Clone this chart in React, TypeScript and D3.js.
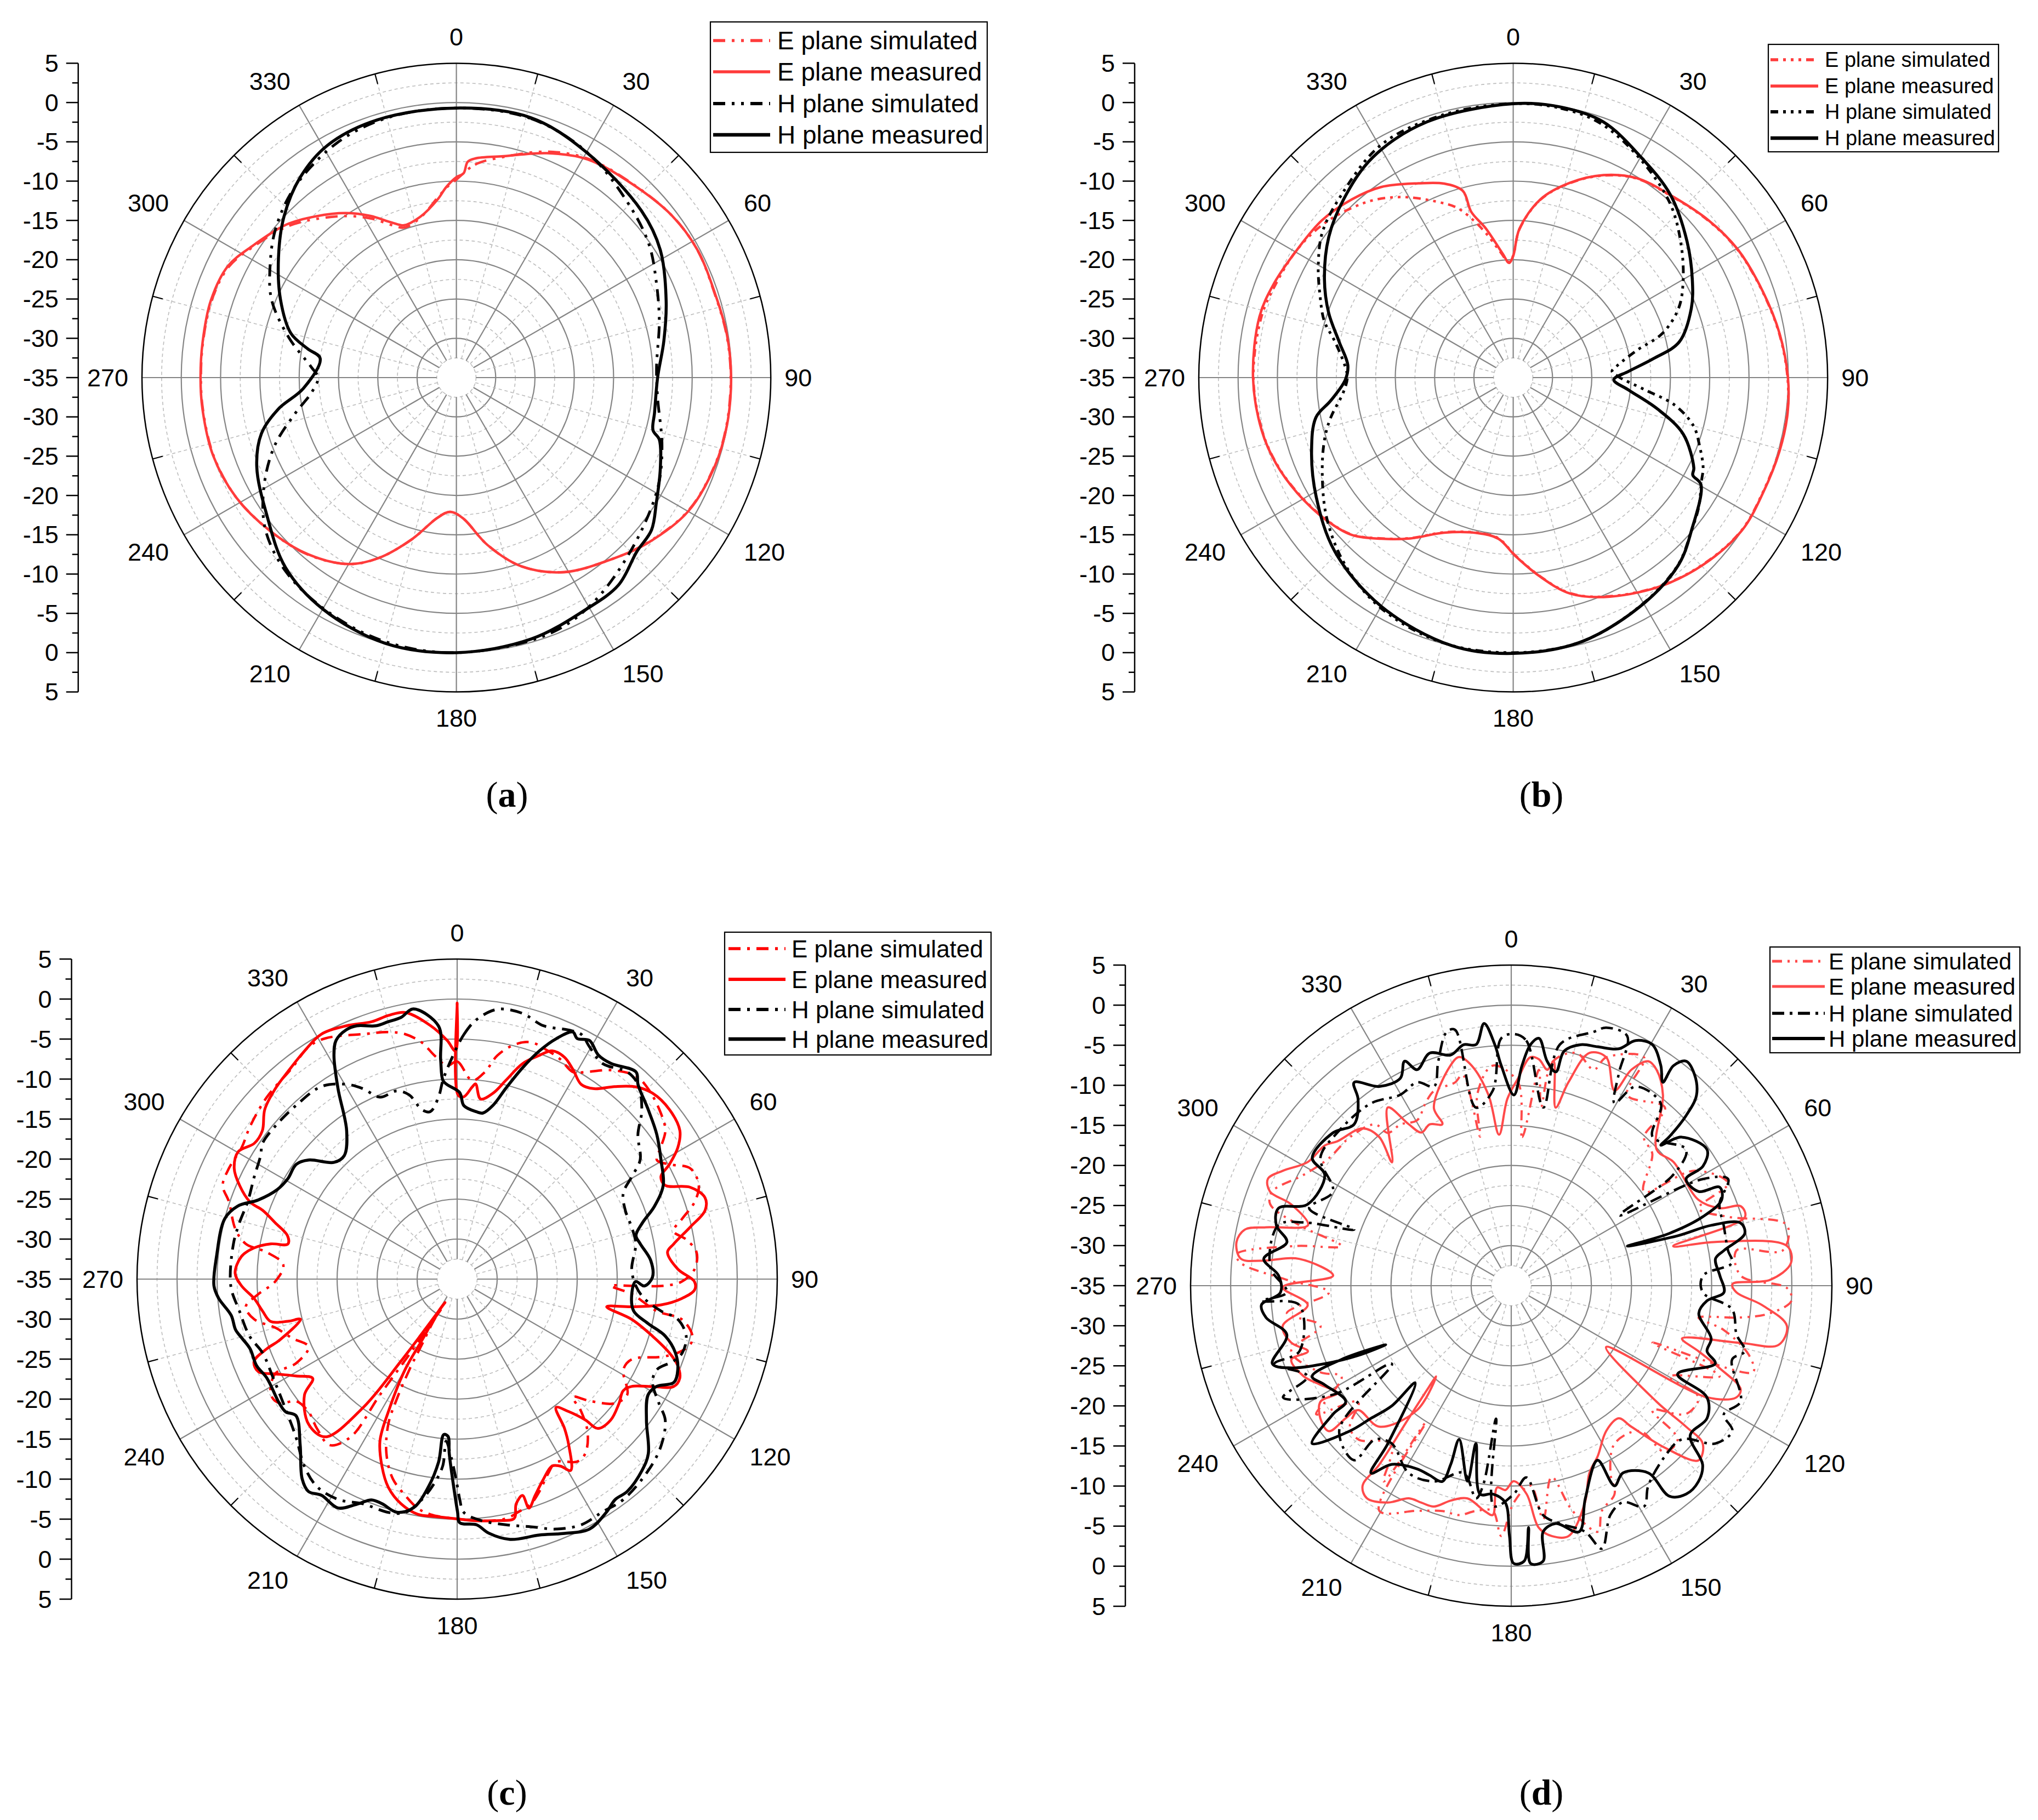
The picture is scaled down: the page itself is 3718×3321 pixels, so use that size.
import React from 'react'
import * as d3 from 'd3'

type Pt = [number, number] // [angle in degrees clockwise from top, gain in dB]

// ---------- panel (a)
const aEsim: Pt[] = [[0,-9.8],[5,-7.8],[12,-6.3],[22,-4.0],[31,-2.5],[42,-1.7],[53,-0.7],[62,-0.3],[72,-0.45],[81,-0.2],[90,-0.1],[100,-0.1],[109,-0.3],[120,-1.0],[131,-2.9],[140,-4.7],[151,-6.7],[161,-9.6],[169.4,-13.3],[177.4,-17.1],[182.7,-17.9],[187.7,-17.0],[195.3,-13.7],[203.3,-10.0],[210,-7.6],[220,-5.6],[230.6,-4.3],[241.5,-3.1],[252.3,-2.55],[263,-2.5],[270,-2.5],[278,-2.45],[287.5,-2.35],[296,-2.8],[303,-4.3],[312,-6.2],[319,-8.2],[326,-10.2],[332,-12.1],[337.3,-14.0],[341,-14.8],[347.5,-14.1],[354,-12.0],[357,-10.8]]
const aEmeas: Pt[] = [[0,-9.5],[2,-9.0],[3,-7.5],[5,-7.0],[12,-6.2],[22,-4.2],[31,-2.6],[42,-1.75],[53,-0.7],[62,-0.3],[72,-0.4],[81,-0.15],[90,-0.05],[100,-0.05],[109,-0.25],[120,-0.95],[131,-2.85],[140,-4.7],[151,-6.7],[161,-9.6],[169.4,-13.3],[177.4,-17.1],[182.7,-17.9],[187.7,-17.0],[195.3,-13.7],[203.3,-10.0],[210,-7.6],[220,-5.65],[230.6,-4.3],[241.5,-3.1],[252.3,-2.5],[263,-2.45],[270,-2.45],[278,-2.4],[287.5,-2.26],[296,-2.66],[303,-4.15],[312,-5.9],[319,-7.8],[326,-9.75],[332,-11.7],[337.3,-13.6],[341,-14.5],[347.5,-14.0],[354,-12.2],[357,-10.7]]
const aHsim: Pt[] = [[0,-0.7],[16,-0.7],[30.5,-1.9],[45.7,-4.0],[55.6,-5.25],[64.7,-6.85],[74.4,-8.2],[87,-9.5],[95.4,-9.3],[108.6,-7.4],[119,-5.75],[135,-3.7],[150,-1.3],[161,-0.3],[180,0],[195,-0.2],[208.6,-1.0],[221,-2.1],[231.3,-3.9],[240,-6.7],[249.2,-10.2],[257.5,-14],[264.2,-16.5],[270,-17.4],[274.1,-16.5],[283.4,-13.1],[292.8,-9.5],[300.8,-7.4],[309.5,-5.2],[319.8,-3.2],[333,-1.5],[345,-0.8]]
const aHmeas: Pt[] = [[0,-0.7],[16,-0.6],[30,-1.9],[48,-3.3],[58,-4.4],[70,-6.6],[80,-8.2],[90,-9.4],[100,-9.4],[105,-9.1],[107,-8.0],[114,-6.6],[122,-5.0],[128,-3.5],[134,-3.1],[142,-1.5],[151,-1.2],[164,-0.4],[180,0],[195,0],[210,-1.0],[222,-2.5],[234,-5.2],[246,-7.2],[254,-9.2],[260,-12],[266,-15.5],[278,-17.5],[281,-15.7],[285,-13.2],[294,-10.5],[304,-7.7],[313,-5.0],[322,-2.7],[331,-1.2],[343,-0.7]]

// ---------- panel (b)
const bEsim: Pt[] = [[0,-19.5],[2.4,-16.1],[8.7,-12.1],[16.2,-9.25],[24,-6.85],[31.8,-5.2],[40.8,-4.4],[51.1,-3.15],[60.3,-2.15],[71,-1.45],[80.6,-0.7],[90,-0.1],[97.4,0.15],[105.4,0.1],[114.8,-0.05],[123.8,-0.05],[134.4,-1.1],[145.4,-2.65],[157.6,-4.85],[165.3,-6.65],[172.2,-9.45],[179.3,-12.35],[185.2,-14.45],[192.9,-14.75],[204,-13.45],[212.6,-10.75],[219.3,-8.55],[225.8,-6.35],[232.6,-5.15],[241.9,-3.9],[250.1,-2.95],[258.2,-2.35],[270,-1.95],[283.6,-2.05],[291.7,-2.55],[300.6,-3.05],[308.7,-3.9],[316.4,-5.2],[322.6,-6.45],[329.3,-8.3],[336.2,-10.5],[341.6,-12.2],[345.8,-14.35],[349.3,-16.3],[353.5,-18.6],[358,-20.3]]
const bEmeas: Pt[] = [[0,-19.5],[2.4,-16.05],[8.7,-12.05],[16.2,-9.2],[24,-6.8],[31.8,-5.15],[40.8,-4.35],[51.1,-3.1],[60.3,-2.1],[71,-1.4],[80.6,-0.65],[90,-0.05],[97.4,0.2],[105.4,0.15],[114.8,0],[123.8,0],[134.4,-1.05],[145.4,-2.6],[157.6,-4.8],[165.3,-6.6],[172.2,-9.4],[179.3,-12.3],[185.2,-14.4],[192.9,-14.7],[204,-13.4],[212.6,-10.7],[219.3,-8.5],[225.8,-6.3],[232.6,-5.1],[241.9,-3.85],[250.1,-2.9],[258.2,-2.3],[270,-1.9],[283.5,-1.8],[291.5,-2.3],[300.6,-3.05],[309.5,-3.5],[317.8,-4.4],[325.3,-5.5],[334,-7.5],[340.4,-8.8],[344.9,-10.4],[345.8,-13.25],[349.6,-15.7],[355.2,-19.2],[357.9,-20.4]]
const bHsim: Pt[] = [[0,-0.15],[10,-0.2],[19,-0.8],[30,-2.8],[42.1,-5.2],[51.8,-7.8],[61,-10.3],[67.3,-12.2],[73.5,-15.2],[77.6,-18.9],[83.2,-21.6],[86.3,-22.4],[89,-21.8],[95.4,-18.1],[99.6,-14.2],[105,-11.25],[110.3,-9.7],[115.4,-8.25],[118.6,-7.7],[125,-6.2],[130.7,-5.1],[138.4,-3.3],[149.5,-1.9],[165.3,-0.3],[180,0],[195,-0.1],[210,-1.2],[222,-3.0],[233,-5.3],[243.7,-7.9],[252.1,-9.8],[257.7,-11.25],[265,-13.3],[270,-13.9],[273.6,-13.6],[281.3,-11.9],[286.7,-9.9],[293,-8.3],[299.7,-6.45],[307.2,-4.5],[316.7,-3.1],[330.4,-0.95],[345,-0.4]]
const bHmeas: Pt[] = [[0,-0.15],[10,-0.05],[19.4,-0.5],[30.2,-2.6],[40.8,-4.35],[51.9,-6.9],[61.2,-9.0],[68.8,-10.7],[77.9,-13.4],[82.3,-17.0],[86.9,-20.3],[91.2,-22.2],[96.2,-20.2],[102.3,-16.2],[108.4,-12.2],[116.6,-9.3],[118.5,-9.0],[119.7,-7.5],[130.7,-5.1],[138.4,-3.25],[149.5,-1.85],[165.3,-0.3],[180,0.1],[192.8,0],[210,-1.4],[225.7,-3.3],[238.8,-5.7],[250,-7.7],[258.6,-9.4],[262.8,-11.6],[269.3,-13.65],[274.3,-13.9],[281.6,-12.4],[289.4,-10.1],[297.6,-7.9],[307.3,-5.5],[316.4,-3.7],[327.5,-1.76],[341.4,-0.66]]

// ---------- panel (c)
const cEsim: Pt[] = [[357.3,-8.3],[0,-7.8],[4.3,-10.1],[7.6,-8.9],[10.2,-6.6],[13.7,-4.85],[17.3,-4.0],[21.7,-4.3],[25.1,-4.65],[29.2,-5.35],[31.8,-4.55],[36.3,-2.6],[41.3,-1.2],[45.1,-1.3],[51,-2.2],[54.5,-3.05],[57.1,-4.7],[59.2,-5.95],[61.6,-4.85],[64.6,-2.75],[68.7,-2.6],[72,-3.8],[75,-5.9],[77.5,-7.3],[80.2,-5.95],[83.6,-4.9],[87.6,-5.3],[90.6,-6.9],[91.8,-9.0],[92.2,-13.2],[92.5,-15.8],[94.9,-13.1],[99.1,-9.75],[100.2,-6.45],[103.6,-4.75],[105.7,-4.75],[108.5,-5.95],[110.9,-7.75],[114.7,-11.0],[118.6,-11.35],[124.2,-9.3],[128.2,-9.9],[132.6,-12.5],[135.5,-14.35],[136.9,-12.3],[139.6,-9.85],[143.7,-7.95],[146.7,-7.7],[151.6,-9.0],[155.1,-8.1],[158.8,-6.55],[161.8,-5.45],[165.3,-4.9],[168.5,-4.45],[173.5,-4.6],[180.4,-5.05],[186.5,-5.4],[189.8,-5.95],[193.5,-7.2],[197.9,-8.8],[202.1,-11.5],[205.4,-14.95],[206.7,-18.2],[207.8,-22.2],[208.3,-25.7],[209.4,-29.2],[207.3,-31.1],[212.1,-24.7],[213.7,-17.6],[214,-11.2],[217.5,-8.85],[223.2,-9.4],[228.2,-10.1],[232.8,-9.75],[235.1,-7.9],[238.1,-7.6],[242.5,-9.35],[242.4,-12.3],[245.5,-14.6],[250.3,-13.1],[255,-11.5],[258.8,-9.15],[262.5,-8.35],[265.7,-10.1],[269.2,-12.25],[274.7,-13.2],[278,-11.0],[279.5,-8.2],[282.7,-6.6],[288.7,-4.9],[291.8,-3.45],[295.9,-3.3],[301.4,-3.45],[306.4,-2.85],[313.7,-2.1],[322,-1.5],[327.4,-0.55],[331.3,-0.7],[339,-2.2],[344.4,-2.95],[348,-3.7],[351.5,-5.1],[354.2,-6.9]]
const cEmeas: Pt[] = [[359.6,-6.5],[0,-0.5],[0.3,-12.0],[2.1,-12.2],[4.5,-10.9],[5.4,-10.5],[7.4,-12.3],[11,-11.3],[13.8,-9.4],[16.9,-6.85],[20.2,-5.2],[22.6,-4.1],[25.8,-4.2],[29,-5.1],[32.5,-6.15],[35.7,-5.7],[39.3,-3.9],[42.9,-2.2],[46.4,-1.3],[51.4,-1.05],[56.3,-1.55],[59.2,-2.9],[61.6,-4.85],[63.3,-6.5],[65.7,-6.5],[68.5,-3.7],[71.8,-2.4],[74.5,-2.85],[77.4,-5.15],[80.8,-7.6],[82.7,-8.5],[87.4,-7.4],[90.6,-5.35],[92.6,-5.3],[94.9,-6.8],[97.2,-9.3],[99,-12.9],[100.5,-16.0],[103,-12.6],[106.3,-9.55],[109.2,-6.9],[111.4,-5.4],[114,-4.55],[116.4,-4.8],[118.8,-7.1],[121.6,-9.4],[123.9,-10.0],[127.5,-9.5],[132.6,-8.95],[136.7,-9.35],[137.7,-11.2],[139.9,-13.35],[142.4,-14.75],[144.3,-12.0],[146.1,-10.0],[149.3,-7.2],[151.1,-8.3],[153.1,-8.8],[156.6,-7.8],[160.2,-6.25],[162.6,-5.0],[163.2,-6.75],[165.3,-5.95],[166.6,-4.25],[170.5,-4.4],[175.4,-4.7],[180.4,-5.05],[185.5,-5.2],[189.5,-5.2],[194,-6.05],[198.3,-7.6],[201.9,-9.8],[205.5,-12.6],[207.4,-16.3],[209.9,-21.95],[209.9,-26.2],[210.1,-30.4],[207.4,-31.7],[214.4,-22.6],[216.2,-15.1],[219.9,-9.3],[225.7,-9.05],[232.8,-11.05],[235.5,-13.1],[239,-11.5],[242.5,-9.35],[245,-7.6],[247.9,-7.6],[249.9,-9.7],[251,-11.5],[255.6,-14.8],[256,-13.2],[257.2,-11.1],[260.7,-10.35],[264.6,-9.5],[268.2,-8.05],[271.5,-7.25],[276,-7.9],[278.7,-9.3],[280.7,-11.3],[281.7,-13.4],[284.4,-13.1],[287.2,-11.2],[289.5,-9.2],[290.4,-7.4],[293.3,-5.4],[296.4,-3.9],[300.2,-3.35],[303.8,-4.5],[307.3,-4.4],[311.4,-2.95],[316.3,-2.1],[320.7,-1.55],[326.2,-0.7],[331,0],[336.4,-0.45],[341.6,-1.1],[345.4,-0.95],[349,-1.05],[354,-3.15],[357.6,-5.15]]
const cHsim: Pt[] = [[358.5,-7.5],[1.6,-4.4],[4.25,-2.5],[8.5,-0.9],[13.8,-0.8],[18.8,-1.55],[24.1,-0.9],[26.9,-0.7],[29.7,-1.6],[34,-2.5],[39.4,-1.5],[42.9,-1.8],[47.5,-3.7],[51.4,-6.1],[56.9,-7.7],[59.6,-9.7],[62.7,-11.65],[67.8,-12.3],[73.4,-12.25],[78.8,-12.25],[86.7,-13.15],[92.2,-12.65],[95.9,-11.5],[98.9,-9.2],[100.3,-7.0],[104,-5.5],[108.2,-5.4],[110.8,-6.1],[114.4,-7.6],[117.8,-7.4],[121.6,-5.4],[124.1,-3.6],[129.2,-2.1],[135,-1.2],[143,-0.5],[148.1,-0.7],[153.2,-0.6],[158.4,-1.4],[163.4,-2.7],[168.8,-3.7],[174.4,-4.7],[178.4,-5.85],[179.3,-7.4],[179.9,-9.0],[181.9,-12.7],[183.9,-14.7],[184.4,-11.6],[186.3,-9.4],[189.1,-7.1],[192.6,-5.1],[196.4,-4.6],[202.7,-4.55],[208.4,-3.7],[214,-3.7],[219.2,-4.8],[225.6,-6.8],[234.4,-8.3],[241.7,-8.9],[249.2,-9.0],[254.6,-8.1],[261.7,-7.5],[268.3,-6.7],[278.9,-6.7],[284.5,-6.9],[290.2,-7.1],[296.8,-6.6],[302.1,-6.0],[304.9,-5.35],[310,-5.3],[317.2,-5.4],[324.8,-5.55],[330.4,-7.0],[333.7,-8.45],[337,-10.3],[342.2,-10.3],[345.4,-11.2],[348.3,-13.4],[350.9,-13.8],[354.2,-12.1],[355.9,-10.1]]
const cHmeas: Pt[] = [[350.8,-0.8],[355.8,-3.3],[355.7,-7.5],[355.9,-10.1],[357,-10.65],[0.8,-11.7],[2.2,-13.3],[6.6,-13.95],[8.8,-14.0],[11.7,-12.8],[14.3,-10.4],[17.2,-7.35],[19.8,-4.7],[22.4,-2.5],[25.1,-0.9],[26.5,-1.4],[29,-0.9],[32.2,-1.9],[35.5,-1.9],[40.8,-0.8],[42.9,-1.8],[48.5,-3.1],[54.1,-4.2],[59.7,-5.5],[65.5,-6.7],[69.7,-8.7],[73.1,-10.8],[76.3,-12.0],[79.1,-11.7],[84.5,-10.7],[89.5,-10.6],[92.1,-11.6],[90.8,-12.7],[94.9,-13.1],[100.2,-12.6],[103.1,-10.5],[105.3,-8.05],[108.7,-6.2],[112.3,-5.2],[115.5,-5.0],[118.3,-6.7],[121.2,-7.1],[126.7,-5.5],[132.4,-2.65],[136,-1.75],[141.3,-1.0],[144.4,-1.1],[147.4,-0.4],[152.1,0.35],[157.1,-0.5],[162.2,-1.4],[168.5,-1.8],[172.9,-3.0],[175.5,-4.2],[179.4,-4.55],[179.9,-5.9],[182.6,-13.2],[183.3,-15.3],[184.9,-15.5],[185.8,-12.0],[187.9,-8.75],[190.8,-5.9],[194.5,-4.9],[198.5,-5.4],[201.2,-5.4],[204,-4.2],[207.5,-2.75],[212.1,-3.1],[215,-2.6],[217.8,-3.4],[223.4,-6.45],[229.7,-8.6],[232.3,-7.9],[235.1,-7.9],[242.5,-8.2],[246.7,-7.7],[251.4,-7.7],[254.7,-7.1],[257.1,-6.6],[260.9,-6.4],[265.4,-5.1],[268.4,-4.6],[275.4,-4.8],[284.6,-5.0],[288.4,-6.1],[291.7,-8.25],[296.5,-9.9],[300.6,-10.4],[305.5,-10.3],[308.7,-11.2],[313.5,-13.8],[317.5,-14.1],[323.3,-11.9],[328,-6.9],[331.2,-3.05],[333.1,-1.55],[336,-0.9],[338.4,-0.95],[342.2,-1.75],[345,-1.7],[347.9,-1.55]]

// ---------- panel (d)
const dEsim: Pt[] = [[1.9,-9.6],[4.2,-16.4],[7.3,-7.85],[9.5,-12.4],[10.5,-6.55],[15.7,-4.85],[20.9,-6.15],[22.6,-4.15],[30.2,-2.05],[31.3,-7.15],[40.8,-5.65],[41.8,-10.15],[46.9,-10.9],[54.7,-14.7],[57.9,-8.0],[64.7,-5.1],[67.6,-9.7],[72.4,-6.6],[77.6,0.2],[82.6,-0.85],[81.1,-6.55],[87.5,-6.35],[90.5,-0.6],[93.1,0],[96.1,-2.55],[97.9,-6.1],[99.7,-11.3],[101.8,-7.9],[106.3,-4.1],[109.7,-2.95],[112,-16.0],[113.5,-6.65],[119.9,-12.25],[120.8,-7.8],[126.3,-7.95],[131.4,-11.55],[132.7,-6.75],[137.3,-6.75],[138.5,-10.8],[146.8,-11.45],[152.1,-8.55],[153.6,-6.0],[158.1,-4.7],[160.6,-2.45],[164.8,-5.9],[168.1,-10.6],[172.2,-5.6],[174.5,-9.95],[179.3,-7.95],[182.3,-3.75],[184.7,-6.8],[188.9,-6.55],[192.8,-5.65],[197,-5.6],[202.7,-4.55],[210.4,-2.45],[212,-14.85],[213.1,-5.85],[217.1,-10.3],[224.8,-7.95],[228.8,-8.25],[232.8,-11.05],[236.6,-5.85],[238.5,-8.3],[241.9,-11.0],[245.6,-8.85],[253.4,-6.35],[258.1,-10.7],[263,-6.8],[267.9,-12.25],[271.5,-7.0],[274.8,-1.15],[276.5,-0.5],[280.4,-7.6],[283.1,-13.25],[285.9,-7.55],[288.7,-3.25],[291.5,-2.95],[298.1,-5.65],[305,-7.25],[312.7,-7.65],[319.8,-8.65],[321.1,-10.5],[325.5,-10.6],[330.4,-11.25],[334.8,-9.85],[338.4,-8.85],[344.5,-8.7],[347,-8.0],[348.2,-16.0],[350,-10.7],[355.2,-7.45]]
const dEmeas: Pt[] = [[355.4,-16.1],[358.8,-11.7],[1.9,-9.1],[4.8,-6.4],[7,-6.55],[9.5,-7.7],[10.7,-6.5],[14,-12.1],[15.7,-8.65],[18.6,-4.35],[22.6,-4.15],[27.9,-7.45],[29.1,-4.15],[31.4,-2.2],[34,-2.55],[38.5,-4.6],[46.9,-10.15],[52.7,-9.55],[65.4,-9.3],[69.6,-7.25],[70.9,-4.7],[73.6,-4.6],[76.3,-14.2],[77.9,-8.95],[81.8,-0.25],[85.4,0],[88.7,-2.7],[89.6,-7.4],[91.7,-6.9],[94.4,-3.65],[98.3,-0.25],[102.5,-0.85],[104,-5.5],[107.2,-12.7],[109.3,-10.25],[111.6,-7.05],[114.3,-3.6],[116.4,-3.65],[119.7,-6.9],[122.9,-20.9],[128.6,-11.8],[128.9,-7.0],[129.5,-4.05],[133,-3.05],[136.5,-7.1],[139.6,-11.9],[141,-13.7],[146.8,-13.35],[153.1,-11.15],[157.4,-9.65],[161.2,-6.45],[167.1,-2.95],[170.8,-3.35],[173.5,-4.6],[175.8,-8.95],[179.3,-10.6],[181.6,-9.5],[184,-9.75],[184.6,-6.3],[186.8,-6.7],[191.6,-7.9],[195.7,-7.15],[199.3,-5.8],[202.5,-5.7],[205.7,-5.55],[209.7,-3.85],[214.2,-2.95],[216.6,-3.9],[216.4,-7.25],[217.7,-14.1],[219.6,-20.3],[217.1,-15.55],[223.1,-10.9],[230.9,-10.4],[231.3,-8.55],[231.4,-5.9],[235.2,-6.0],[238.7,-7.15],[238.3,-9.5],[242.5,-8.2],[246.4,-6.75],[251.4,-6.05],[252.1,-8.35],[255.5,-6.65],[260,-6.05],[264.6,-9.5],[269.6,-6.5],[273.2,-12.75],[277.2,-8.35],[275.7,-3.7],[275.7,-1.1],[279,-0.3],[281.9,-1.05],[283.4,-3.55],[286.6,-8.55],[290.3,-5.7],[291.3,-2.7],[293.7,-1.85],[296.7,-3.1],[301.3,-5.3],[306.95,-5.9],[309.7,-6.8],[316.6,-8.0],[318.4,-10.2],[316,-13.6],[325.3,-7.95],[327.6,-11.15],[329.6,-12.85],[333.2,-12.45],[336.9,-13.1],[336.5,-10.8],[344.6,-6.5],[347.2,-5.75],[349.8,-7.1],[353.2,-11.05]]
const dHsim: Pt[] = [[0.6,-3.6],[3.5,-4.35],[10.2,-12.4],[11.4,-4.3],[18,-1.7],[20.2,-0.7],[24.9,-0.65],[26.9,-5.35],[29.5,-8.85],[32,-5.7],[39.4,-5.6],[43.5,-9.4],[52.1,-7.35],[55.6,-10.5],[57,-18.9],[60.9,-7.65],[63.8,-4.85],[68.6,-7.1],[74.1,-7.45],[80.8,-7.6],[84.1,-7.3],[87,-11.05],[92,-11.1],[96.1,-7.3],[102.2,-6.25],[105.7,-4.75],[108.5,-5.95],[116.8,-2.95],[121.2,-4.0],[123.3,-2.0],[127.7,-2.8],[132,-6.35],[138,-6.35],[145.6,-4.75],[149,-2.85],[152.7,-4.6],[156.6,-3.85],[161,-0.3],[163.3,-2.95],[168.4,-4.7],[172.1,-6.1],[175.5,-11.0],[179.3,-9.0],[184.5,-7.4],[186.5,-18.3],[188,-9.9],[189.4,-8.1],[194.3,-10.9],[201.5,-8.75],[208.7,-8.35],[217.1,-10.3],[221.5,-9.4],[222,-5.7],[230,-7.0],[236.8,-17.2],[238.5,-9.0],[243.9,-3.3],[246,-7.2],[251.7,-3.9],[252.8,-7.35],[264.8,-8.45],[266.5,-3.8],[268.3,-7.0],[274.4,-4.85],[284.6,-5.0],[287,-8.0],[289.7,-14.2],[291,-8.0],[297.8,-9.85],[303.8,-6.35],[311.3,-6.1],[322.4,-6.3],[329.8,-7.45],[335.2,-7.05],[338.8,-8.35],[342,-5.55],[345.7,-2.35],[347.6,-2.3],[348.8,-12.35],[354.6,-10.55],[357.7,-4.1]]
const dHmeas: Pt[] = [[354.1,-2.1],[356.1,-4.85],[357.4,-7.5],[0.8,-11.2],[2.8,-7.5],[4.6,-4.8],[6.4,-3.95],[9.1,-6.65],[11.8,-7.75],[12.7,-5.0],[16.1,-3.7],[19.9,-3.3],[24.4,-2.55],[26.9,-0.7],[30.3,-0.15],[34.2,-1.8],[36.7,-3.35],[36.4,-0.9],[37.9,0.5],[40.9,-0.1],[44.2,-1.85],[45.8,-4.6],[46.7,-7.9],[46.8,-9.4],[48.9,-6.8],[55.2,-5.25],[58.1,-6.85],[58.6,-9.45],[63.3,-8.85],[64.7,-6.25],[67.8,-6.65],[70.2,-9.6],[71.7,-14.25],[71.2,-19.7],[73.3,-13.3],[73.2,-8.95],[74.7,-5.35],[77.4,-5.15],[80.6,-8.1],[82.5,-9.3],[87.2,-8.95],[91.8,-8.45],[94.4,-10.5],[98.4,-11.35],[104.8,-9.2],[108.5,-9.25],[110.9,-7.75],[118,-11.5],[119.7,-6.9],[124.1,-5.5],[129.9,-5.9],[133.1,-2.3],[136.3,-1.2],[140,-1.05],[143.1,-2.15],[143.8,-6.05],[149.2,-7.8],[152.7,-6.9],[153.7,-10.7],[160.8,-6.9],[164.6,-3.15],[169.4,-4.8],[172.6,-4.05],[173.4,-0.4],[176,-0.25],[175.9,-4.75],[177.3,-0.6],[179.5,-0.35],[180.4,-3.75],[181.6,-7.95],[185.1,-8.9],[188.5,-8.7],[192.6,-14.8],[192.6,-10.0],[198.7,-14.75],[198.7,-11.45],[199.4,-9.1],[203.3,-9.25],[207.2,-9.3],[213.7,-8.2],[216.8,-5.8],[218,-10.0],[224.7,-17.95],[224.8,-13.9],[226.6,-10.9],[228,-7.9],[231.6,-3.3],[234.2,-7.6],[235,-9.8],[242,-8.65],[245.5,-7.7],[246.5,-11.9],[244.8,-17.7],[245.5,-14.0],[247.3,-9.75],[249.5,-5.7],[251.9,-3.65],[257.7,-6.35],[262.6,-4.15],[265.6,-3.75],[268.3,-6.2],[272.5,-5.95],[276.2,-3.95],[281,-6.5],[284.4,-4.75],[288.4,-4.4],[291.8,-7.65],[300.7,-7.95],[302.7,-5.5],[310.6,-5.7],[315.8,-6.9],[320.6,-4.9],[322.3,-2.95],[326.5,-5.2],[331.9,-5.65],[334.6,-4.0],[336.45,-5.6],[340.7,-4.25],[345.3,-5.25],[348.8,-4.35],[351.7,-4.6]]

const legendNames = ['E plane simulated', 'E plane measured', 'H plane simulated', 'H plane measured']
const angleLabels = d3.range(0, 360, 30)

const RED_A = '#ff3b3b'
const RED_C = '#ff0000'
const RED_D = '#ff4a4a'

type Series = { data: Pt[]; color: string; width: number; dash?: string }
type Legend = { x: number; y: number; w: number; h: number; rows: number[]; s0: number; s1: number; tx: number; fs: number }
type PanelDef = { cx: number; cy: number; R: number; axisX: number; series: Series[]; legend: Legend; caption: string; capX: number; capY: number }

const panels: PanelDef[] = [
  {
    cx: 832.6, cy: 689, R: 573.6, axisX: 142.7, caption: 'a', capX: 925, capY: 1472,
    series: [
      { data: aEsim, color: RED_A, width: 4.5, dash: '22 12 5 12 5 12' },
      { data: aEmeas, color: RED_A, width: 4.5 },
      { data: aHsim, color: '#000', width: 5, dash: '22 12 5 12 5 12' },
      { data: aHmeas, color: '#000', width: 5.5 },
    ],
    legend: { x: 1296, y: 40, w: 505, h: 238, rows: [74, 131, 189, 246], s0: 1301, s1: 1405, tx: 1418, fs: 46 },
  },
  {
    cx: 2760.6, cy: 689, R: 573.6, axisX: 2070, caption: 'b', capX: 2812, capY: 1472,
    series: [
      { data: bEsim, color: RED_A, width: 4.5, dash: '14 9 5 9 5 9 5 9' },
      { data: bEmeas, color: RED_A, width: 4.5 },
      { data: bHsim, color: '#000', width: 5, dash: '14 9 5 9 5 9 5 9' },
      { data: bHmeas, color: '#000', width: 5.5 },
    ],
    legend: { x: 3226, y: 81, w: 420, h: 196, rows: [109, 157, 204, 252], s0: 3230, s1: 3317, tx: 3329, fs: 38 },
  },
  {
    cx: 834, cy: 2334, R: 584, axisX: 130.5, caption: 'c', capX: 925, capY: 3293,
    series: [
      { data: cEsim, color: RED_C, width: 4.5, dash: '22 12 5 12' },
      { data: cEmeas, color: RED_C, width: 5 },
      { data: cHsim, color: '#000', width: 5, dash: '22 12 5 12' },
      { data: cHmeas, color: '#000', width: 5.5 },
    ],
    legend: { x: 1322, y: 1701, w: 486, h: 224, rows: [1731, 1787, 1842, 1896], s0: 1329, s1: 1433, tx: 1444, fs: 44 },
  },
  {
    cx: 2757, cy: 2346, R: 585, axisX: 2053, caption: 'd', capX: 2812, capY: 3293,
    series: [
      { data: dEsim, color: RED_D, width: 4, dash: '18 10 4 10 4 10' },
      { data: dEmeas, color: RED_D, width: 4 },
      { data: dHsim, color: '#000', width: 4.5, dash: '22 10 5 10' },
      { data: dHmeas, color: '#000', width: 5 },
    ],
    legend: { x: 3229, y: 1728, w: 456, h: 193, rows: [1754, 1800, 1849, 1895], s0: 3233, s1: 3329, tx: 3336, fs: 42 },
  },
]

const rad = Math.PI / 180
const FONT = 'Liberation Sans, Arial, sans-serif'
const LABEL_FS = 45

// centre of an angular label: the nearest corner of its box sits just outside the rim
const labelPos = (a: number, R: number): [number, number] => {
  const s = Math.sin(a * rad)
  const c = Math.cos(a * rad)
  const sx = Math.abs(s) < 1e-6 ? 0 : Math.sign(s)
  const sy = Math.abs(c) < 1e-6 ? 0 : Math.sign(c)
  const gap = sy === 0 ? 25 : 32
  const halfW = String(a).length * 0.556 * LABEL_FS * 0.5
  const halfH = 16
  return [(R + gap) * s + sx * halfW, -(R + gap) * c - sy * halfH]
}

const PolarPanel = ({ p }: { p: PanelDef }) => {
  const r = d3.scaleLinear().domain([-35, 5]).range([0, p.R])
  const line = d3
    .lineRadial<Pt>()
    .angle((d) => d[0] * rad)
    .radius((d) => r(d[1]))
    .curve(d3.curveCatmullRomClosed.alpha(0.5))
  const solidRings = d3.range(-30, 0.1, 5)
  const dashRings = d3.range(-32.5, 5, 5)
  const r0 = r(-32.5)
  const axisVals = d3.range(-35, 5.1, 2.5)
  const fmt = (v: number) => (v === 0 ? '0' : String(v))

  return (
    <g>
      {/* grid */}
      <g transform={`translate(${p.cx},${p.cy})`}>
        {dashRings.map((v) => (
          <circle key={'d' + v} r={r(v)} fill="none" stroke="#bdbdbd" strokeWidth={1.6} strokeDasharray="6 5" />
        ))}
        {solidRings.map((v) => (
          <circle key={'s' + v} r={r(v)} fill="none" stroke="#858585" strokeWidth={2.2} />
        ))}
        {d3.range(15, 360, 30).map((a) => (
          <line key={'m' + a} x1={r0 * Math.sin(a * rad)} y1={-r0 * Math.cos(a * rad)} x2={p.R * Math.sin(a * rad)} y2={-p.R * Math.cos(a * rad)} stroke="#bdbdbd" strokeWidth={1.6} strokeDasharray="6 5" />
        ))}
        {angleLabels.map((a) => (
          <line key={'M' + a} x1={r0 * Math.sin(a * rad)} y1={-r0 * Math.cos(a * rad)} x2={p.R * Math.sin(a * rad)} y2={-p.R * Math.cos(a * rad)} stroke="#858585" strokeWidth={2.2} />
        ))}
        {d3.range(15, 360, 30).map((a) => (
          <line key={'t' + a} x1={(p.R - 19) * Math.sin(a * rad)} y1={-(p.R - 19) * Math.cos(a * rad)} x2={p.R * Math.sin(a * rad)} y2={-p.R * Math.cos(a * rad)} stroke="#000" strokeWidth={2.2} />
        ))}
        <circle r={p.R} fill="none" stroke="#000" strokeWidth={2.5} />
        {angleLabels.map((a) => {
          const [lx, ly] = labelPos(a, p.R)
          return (
            <text key={'l' + a} x={lx} y={ly} textAnchor="middle" dominantBaseline="central" fontSize={LABEL_FS} fontFamily={FONT}>
              {a}
            </text>
          )
        })}
        {/* curves */}
        {p.series.map((s, i) => (
          <path key={i} d={line(s.data) || ''} fill="none" stroke={s.color} strokeWidth={s.width} strokeDasharray={s.dash} strokeLinejoin="round" />
        ))}
      </g>

      {/* radial axis on the left */}
      <g fontFamily={FONT} fontSize={LABEL_FS}>
        <line x1={p.axisX} x2={p.axisX} y1={p.cy - p.R} y2={p.cy + p.R} stroke="#000" strokeWidth={2.5} />
        {axisVals.map((v) => {
          const major = Math.abs(v % 5) < 1e-6
          const len = major ? 22 : 11
          const ys = v === -35 ? [p.cy] : [p.cy - r(v), p.cy + r(v)]
          return ys.map((y, j) => (
            <g key={v + '_' + j}>
              <line x1={p.axisX - len} x2={p.axisX} y1={y} y2={y} stroke="#000" strokeWidth={2.5} />
              {major && (
                <text x={p.axisX - 36} y={y} textAnchor="end" dominantBaseline="central">
                  {fmt(v)}
                </text>
              )}
            </g>
          ))
        })}
      </g>

      {/* legend */}
      <g fontFamily={FONT} fontSize={p.legend.fs}>
        <rect x={p.legend.x} y={p.legend.y} width={p.legend.w} height={p.legend.h} fill="#fff" stroke="#000" strokeWidth={2.2} />
        {p.series.map((s, i) => (
          <g key={i}>
            <line x1={p.legend.s0} x2={p.legend.s1} y1={p.legend.rows[i]} y2={p.legend.rows[i]} stroke={s.color} strokeWidth={s.width + 1} strokeDasharray={s.dash} />
            <text x={p.legend.tx} y={p.legend.rows[i]} dominantBaseline="central">
              {legendNames[i]}
            </text>
          </g>
        ))}
      </g>

      {/* caption */}
      <text x={p.capX} y={p.capY} textAnchor="middle" fontSize={66} fontFamily="Liberation Serif, 'DejaVu Serif', serif">
        (<tspan fontWeight="bold">{p.caption}</tspan>)
      </text>
    </g>
  )
}

const App = () => (
  <div>
    <style>{'body{margin:0;background:#fff}'}</style>
    <svg width={3718} height={3321} viewBox="0 0 3718 3321" style={{ display: 'block', background: '#fff' }}>
      {panels.map((p, i) => (
        <PolarPanel key={i} p={p} />
      ))}
    </svg>
  </div>
)

export default App
